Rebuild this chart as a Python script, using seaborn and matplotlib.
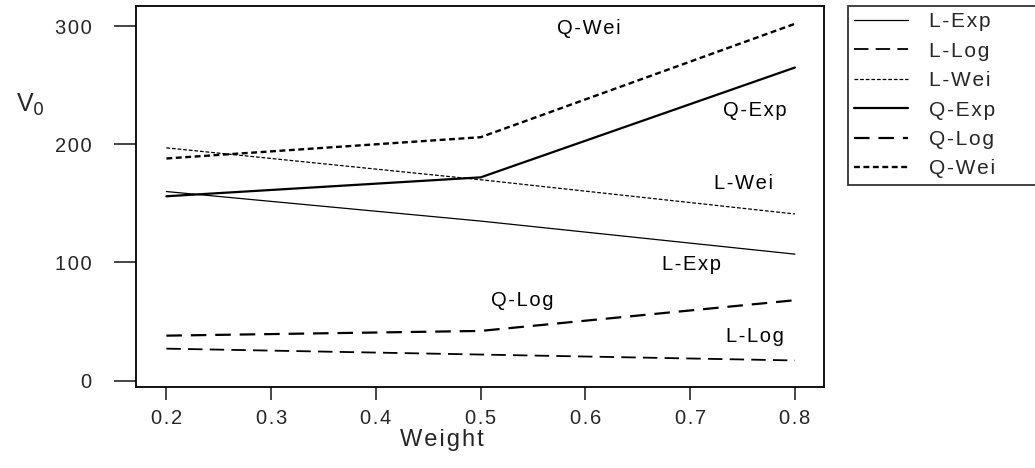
import pandas as pd
import seaborn as sns
import matplotlib
matplotlib.use("Agg")
import matplotlib.pyplot as plt

# data
weight = [0.2, 0.5, 0.8]
series_names = ["L-Exp", "L-Log", "L-Wei", "Q-Exp", "Q-Log", "Q-Wei"]
l_exp = [160, 135, 107]
l_log = [27, 22, 17]
l_wei = [197, 170, 141]
q_exp = [156, 172, 265]
q_log = [38, 42, 68]
q_wei = [188, 206, 302]
values = [l_exp, l_log, l_wei, q_exp, q_log, q_wei]

x_ticks = [0.2, 0.3, 0.4, 0.5, 0.6, 0.7, 0.8]
x_ticklabels = ["0.2", "0.3", "0.4", "0.5", "0.6", "0.7", "0.8"]
y_ticks = [0, 100, 200, 300]
y_ticklabels = ["0", "100", "200", "300"]

# label positions inside the plot
label_x = [0.701, 0.762, 0.751, 0.762, 0.540, 0.603]
label_y = [98, 37, 167, 229, 68, 298]


def spaced(s):
    # old plotting software put wide gaps between letters
    return "\u200a".join(s)


rows = []
for name, vals in zip(series_names, values):
    for w, v in zip(weight, vals):
        rows.append({"Weight": w, "v0": v, "series": name})
df = pd.DataFrame(rows)

sns.set_theme(style="ticks")
plt.rcParams["font.family"] = ["Liberation Sans", "DejaVu Sans"]

styles = {
    "L-Exp": dict(ls="-", lw=0.9),
    "L-Log": dict(ls=(0, (8, 4)), lw=1.3),
    "L-Wei": dict(ls=(0, (3, 1.5)), lw=0.9),
    "Q-Exp": dict(ls="-", lw=1.6),
    "Q-Log": dict(ls=(0, (7, 4)), lw=1.6),
    "Q-Wei": dict(ls=(0, (2.5, 1.5)), lw=1.7),
}

fig = plt.figure(figsize=(10.35, 4.68), dpi=100)
ax = fig.add_axes([0.1314, 0.173, 0.665, 0.814])

for name in series_names:
    sub = df[df["series"] == name]
    sns.lineplot(data=sub, x="Weight", y="v0", ax=ax, color="black",
                 linestyle=styles[name]["ls"], linewidth=styles[name]["lw"],
                 label=spaced(name))

for name, lx, ly in zip(series_names, label_x, label_y):
    ax.text(lx, ly, spaced(name), ha="center", va="center",
            fontsize=14.5, color="black")

ax.set_xlim(0.171, 0.828)
ax.set_ylim(-5.5, 317)
ax.set_xticks(x_ticks)
ax.set_xticklabels([spaced(t) for t in x_ticklabels])
ax.set_yticks(y_ticks)
ax.set_yticklabels([spaced(t) for t in y_ticklabels])
ax.tick_params(axis="y", length=16, width=1.2, labelsize=14.5, pad=16)
ax.tick_params(axis="x", length=9, width=1.2, labelsize=14.5, pad=7)
for sp in ax.spines.values():
    sp.set_linewidth(1.3)
    sp.set_color("black")

ax.set_xlabel(spaced("Weight"), fontsize=17)
ax.xaxis.set_label_coords(0.445, -0.139)
ax.xaxis.label.set_va("center")
ax.set_ylabel("")
fig.text(0.029, 0.775, "V$_0$", fontsize=18, ha="center", va="center")

leg = ax.legend(loc="upper left", bbox_to_anchor=(0.819, 0.3, 0.3, 0.687),
                bbox_transform=fig.transFigure, mode="expand", fontsize=15,
                frameon=True, fancybox=False, edgecolor="black",
                handlelength=2.6, handletextpad=1.0, borderpad=0.3,
                labelspacing=0.5, borderaxespad=0)
leg.get_frame().set_linewidth(1.3)

fig.savefig("out.png", dpi=100)
